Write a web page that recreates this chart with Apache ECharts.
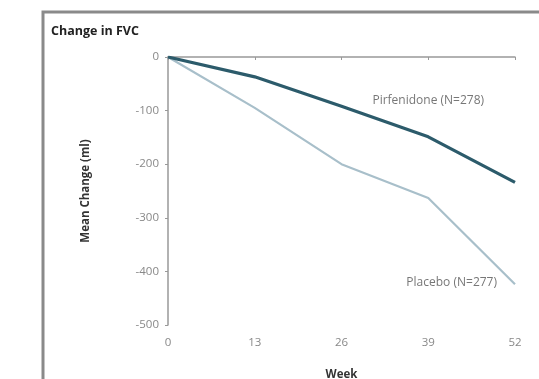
<!DOCTYPE html>
<html>
<head>
<meta charset="utf-8">
<script src="https://cdn.jsdelivr.net/npm/echarts@6/dist/echarts.min.js"></script>
<style>
  html, body { margin: 0; padding: 0; background: #fff; }
  #chart { width: 539px; height: 379px; }
</style>
</head>
<body>
<div id="chart"></div>
<script>
// weeks on the x axis
var weeks = [0, 13, 26, 39, 52]
// mean change in FVC (ml)
var pirfenidone = [0, -37, -92, -149, -234]
var placebo = [0, -95, -200, -263, -424]
var pirfLabel = 'Pirfenidone (N=278)'
var placeboLabel = 'Placebo (N=277)'

function pairs(xs, ys) {
  return xs.map(function (x, i) { return [x, ys[i]] })
}

var chart = echarts.init(document.getElementById('chart'))

var pirfData = pairs(weeks, pirfenidone)
var placeboData = pairs(weeks, placebo)

chart.setOption({
  animation: false,
  textStyle: { fontFamily: 'Open Sans' },
  title: {
    text: 'Change in FVC',
    left: 46,
    top: 20,
    textStyle: { fontSize: 12.5, fontWeight: 'bold', color: '#222' }
  },
  graphic: [{
    type: 'polyline',
    shape: { points: [[43, 379], [43, 12], [539, 12]] },
    style: { stroke: '#8a8a8a', lineWidth: 3, fill: null }
  }],
  grid: { left: 168, top: 57, right: 24, bottom: 54, outerBoundsMode: 'none' },
  xAxis: {
    type: 'value',
    min: 0,
    max: 52,
    interval: 13,
    name: 'Week',
    nameLocation: 'middle',
    nameGap: 44,
    nameTextStyle: { fontSize: 11.5, fontWeight: 'bold', color: '#333' },
    axisLine: { lineStyle: { color: '#999', width: 1.5 } },
    axisTick: { length: 3, inside: false, lineStyle: { color: '#999' } },
    axisLabel: { fontSize: 11.5, color: '#888', margin: 12 },
    splitLine: { show: false }
  },
  yAxis: {
    type: 'value',
    min: -500,
    max: 0,
    interval: 100,
    name: 'Mean Change (ml)',
    nameLocation: 'middle',
    nameGap: 76,
    nameTextStyle: { fontSize: 11.5, fontWeight: 'bold', color: '#333' },
    axisLine: { show: true, lineStyle: { color: '#999', width: 1.5 } },
    axisTick: { show: true, length: 3, lineStyle: { color: '#999' } },
    axisLabel: { fontSize: 11.5, color: '#888', margin: 9 },
    splitLine: { show: false }
  },
  series: [
    {
      name: 'Placebo',
      type: 'line',
      data: placeboData.map(function (d, i) {
        if (i === placeboData.length - 1) {
          return {
            value: d,
            label: {
              show: true,
              position: 'left',
              distance: 18,
              offset: [0, -2],
              formatter: placeboLabel,
              fontSize: 12,
              color: '#777'
            }
          }
        }
        return d
      }),
      showSymbol: true,
      symbol: 'circle',
      symbolSize: 0,
      lineStyle: { color: '#a8bfca', width: 2.2 }
    },
    {
      name: 'Pirfenidone',
      type: 'line',
      data: pirfData.map(function (d, i) {
        if (i === 3) {
          return {
            value: d,
            label: {
              show: true,
              position: 'top',
              distance: 30,
              formatter: pirfLabel,
              fontSize: 12,
              color: '#777'
            }
          }
        }
        return d
      }),
      showSymbol: true,
      symbol: 'circle',
      symbolSize: 0,
      lineStyle: { color: '#2c5b6b', width: 3.2 }
    }
  ]
})
</script>
</body>
</html>
